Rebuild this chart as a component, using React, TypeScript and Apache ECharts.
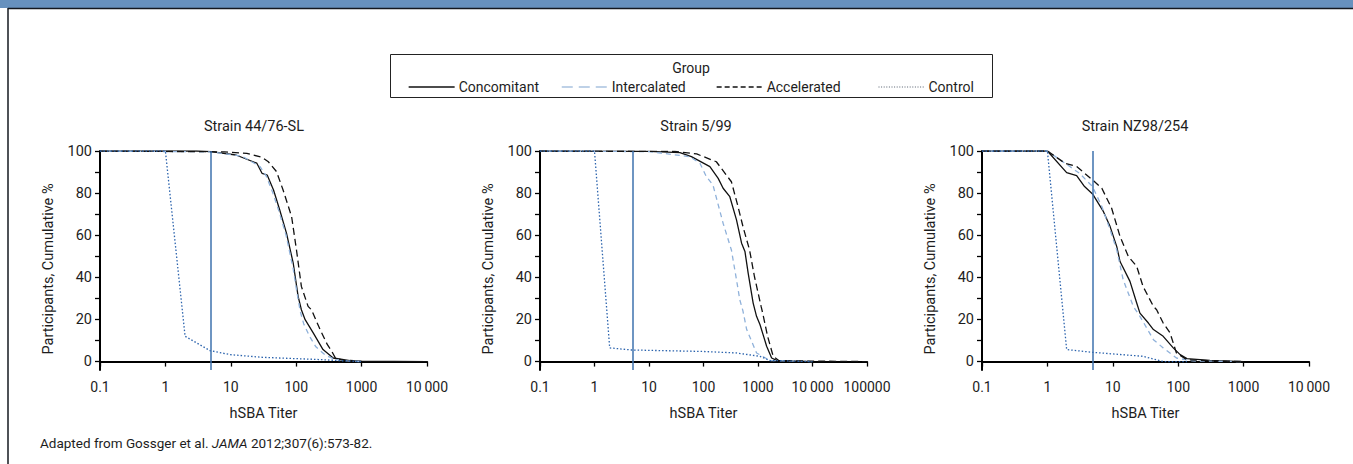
import React, { useEffect, useRef } from "react";
import * as echarts from "echarts";

const groups = ["Concomitant", "Intercalated", "Accelerated", "Control"];
const panelTitles = ["Strain 44/76-SL", "Strain 5/99", "Strain NZ98/254"];
const xMaxValues = [10000, 100000, 10000];
const xTickLabels = ["0.1", "1", "10", "100", "1000", "10\u2009000"];
const xTickLabelsWide = ["0.1", "1", "10", "100", "1000", "10\u2009000", "100000"];
const yLabelValues = [0, 20, 40, 60, 80, 100];
const yTickValues = [0, 10, 20, 30, 40, 50, 60, 70, 80, 90, 100];
const thresholdTiter = 5;
const yAxisTitle = "Participants, Cumulative %";
const xAxisTitle = "hSBA Titer";
const legendTitle = "Group";
const caption = ["Adapted from Gossger et al. ", "JAMA", " 2012;307(6):573-82."];

// [titer, cumulative %]
const s1Concomitant = [[0.1,100],[3,100],[5,99.7],[12,98.1],[25,94.2],[30,89.4],[36,88.6],[45,81.5],[56,72],[71,61],[90,46.8],[107,31],[120,24.6],[137,19.9],[182,13.6],[257,5.7],[368,1.7],[660,0.5],[1000,0.2],[10000,0]];
const s1Intercalated = [[0.1,100],[5,99.6],[15,97.5],[28,92.6],[35,88],[44,80],[55,71],[70,60],[90,44],[100,35],[115,24],[130,18],[160,12],[200,7],[280,3],[400,1],[600,0.3],[1000,0]];
const s1Accelerated = [[0.1,100],[8,99.6],[17.6,98.9],[30,97],[37.5,94.9],[50,90.2],[63,81.5],[85,68.9],[101,53],[120,35.7],[152,26.2],[171,24.6],[232,15.2],[300,8],[350,4.9],[400,1.5],[550,0.5],[800,0]];
const s1Control = [[0.1,100],[1,100],[2,12],[4.8,5.2],[9.8,3.3],[31,2],[232,0.95],[500,0.4],[1000,0]];

const s2Concomitant = [[0.1,100],[10,99.8],[37,99.2],[60,97.3],[131,92.6],[186,87],[229,82.3],[304,78.3],[403,67.3],[500,56.2],[576,52.3],[660,42],[815,27.8],[940,21.5],[1090,17.5],[1440,7.3],[1780,1.7],[2200,0.6],[4000,0.3],[10000,0]];
const s2Intercalated = [[0.1,100],[10,99.7],[56,97.3],[86,94.2],[113,87.8],[149,83.9],[229,65.7],[325,53],[403,38.9],[463,29.4],[530,24],[620,15.2],[940,4.1],[1650,0.5],[10000,0]];
const s2Accelerated = [[0.1,100],[30,99.8],[75,98.6],[172,94.9],[325,85.4],[430,73.6],[530,64.1],[700,53],[860,40.4],[1140,26.2],[1220,23],[1500,12],[1900,2.5],[2400,0.5],[5000,0.3],[100000,0]];
const s2Control = [[0.1,100],[1,100],[1.9,6.5],[4.8,5.5],[99,4.8],[403,4.1],[1090,2.5],[1650,0.5],[10000,0]];

const s3Concomitant = [[0.1,100],[1,100],[1.97,89.7],[2.8,88.3],[3.7,83.1],[4.9,79.6],[7.2,71.2],[9.1,64.1],[11.5,54.6],[12.9,47.5],[18.3,38.1],[23.2,27.8],[26,23],[35,18.3],[41.8,15.2],[59,12],[84,6.5],[107,3.3],[136,1.4],[305,0.6],[1000,0]];
const s3Intercalated = [[0.1,100],[1,100],[2.2,92.6],[3.1,89.4],[4.9,83.1],[6.8,73.6],[9.1,62.6],[11.5,53],[14.4,38.9],[20.6,26.2],[26,21.5],[41.8,10.4],[59,6.5],[94,1.7],[167,0.3],[1000,0]];
const s3Accelerated = [[0.1,100],[1,100],[1.85,94.2],[2.8,92.6],[4.9,86.3],[6.8,82.3],[9.6,72.8],[12.9,59.4],[17.3,49.9],[23.2,45.2],[29,35.7],[41.8,26.2],[46.8,24.6],[59,18.3],[75,13.6],[94,4.1],[136,0.9],[300,0.4],[1000,0]];
const s3Control = [[0.1,100],[1,100],[1.97,5.7],[4.9,4.4],[29,2.5],[59,0],[136,0]];

const panelData = [
  [s1Concomitant, s1Intercalated, s1Accelerated, s1Control],
  [s2Concomitant, s2Intercalated, s2Accelerated, s2Control],
  [s3Concomitant, s3Intercalated, s3Accelerated, s3Control],
];

const FONT = 'Roboto, "Liberation Sans", sans-serif';
const TEXT = "#1d1d1d";
const groupStyles = [
  { color: "#111111", type: "solid" as any, width: 1.3 },
  { color: "#8fb1da", type: [5, 4] as any, width: 1.3 },
  { color: "#111111", type: [7, 4] as any, width: 1.3 },
  { color: "#2b63ad", type: [1.5, 2] as any, width: 1.3 },
];
const legendLineStyles = [
  { color: "#111111", type: "solid" as any, width: 1.3 },
  { color: "#a9c2e0", type: [11, 6] as any, width: 1.5 },
  { color: "#111111", type: [5, 3] as any, width: 1.3 },
  { color: "#555f6e", type: [1, 1.6] as any, width: 1 },
];

const gridLefts = [100, 540, 982];
const titleCenters = [254, 696, 1135];
const legendLefts = [408, 561, 716, 878];

export default function App() {
  const ref = useRef<HTMLDivElement>(null);
  useEffect(() => {
    if (!ref.current) return;
    const chart = echarts.init(ref.current, null, { renderer: "svg" });

    const grids = gridLefts.map((l) => ({ left: l, top: 151, width: 327, height: 219 }));
    const xAxes = gridLefts.map((_, i) => {
      const labels = i === 1 ? xTickLabelsWide : xTickLabels;
      return {
        type: "log",
        logBase: 10,
        gridIndex: i,
        min: 0.1,
        max: xMaxValues[i],
        interval: 1,
        name: xAxisTitle,
        nameLocation: "middle",
        nameGap: 36,
        nameTextStyle: { fontFamily: FONT, fontSize: 14.5, color: TEXT },
        axisLine: { show: true, lineStyle: { color: "#000", width: 2 } },
        axisTick: { show: true, length: 5, lineStyle: { color: "#000", width: 1.3 } },
        axisLabel: {
          margin: 10,
          fontFamily: FONT,
          fontSize: 14,
          color: TEXT,
          formatter: (v: number) => labels[Math.round(Math.log10(v)) + 1] ?? "",
        },
        splitLine: { show: false },
        minorTick: { show: false },
      };
    });
    const yAxes = gridLefts.map((_, i) => ({
      type: "value",
      gridIndex: i,
      min: -4,
      max: 100,
      axisLine: { show: true, onZero: false, lineStyle: { color: "#000", width: 2 } },
      axisTick: { show: true, length: 5, customValues: yTickValues, lineStyle: { color: "#000", width: 1.3 } },
      axisLabel: { margin: 8, fontFamily: FONT, fontSize: 14.5, color: TEXT, customValues: yLabelValues },
      splitLine: { show: false },
    }));

    const series: any[] = [];
    panelData.forEach((sets, p) => {
      sets.forEach((data, g) => {
        series.push({
          type: "line",
          name: groups[g],
          xAxisIndex: p,
          yAxisIndex: p,
          data,
          symbol: "none",
          smooth: false,
          lineStyle: groupStyles[g],
          itemStyle: { color: groupStyles[g].color },
          z: 3,
          markLine:
            g === 0
              ? {
                  silent: true,
                  symbol: "none",
                  label: { show: false },
                  lineStyle: { color: "#3e72ae", width: 1.5, type: "solid" },
                  data: [{ xAxis: thresholdTiter }],
                }
              : undefined,
        });
      });
    });

    const legends = groups.map((g, i) => ({
      left: legendLefts[i],
      top: 80,
      orient: "horizontal",
      itemWidth: 46,
      itemHeight: 14,
      itemGap: 4,
      padding: 0,
      selectedMode: false,
      itemStyle: { opacity: 0 },
      lineStyle: legendLineStyles[i],
      data: [g],
      textStyle: { fontFamily: FONT, fontSize: 14, color: TEXT, padding: [0, 0, 0, -1] },
    }));

    const graphic: any[] = [
      { type: "rect", shape: { x: 0, y: 0, width: 1353, height: 8 }, style: { fill: "#6791be" }, silent: true },
      { type: "line", shape: { x1: 8, y1: 8.5, x2: 1353, y2: 8.5 }, style: { stroke: "#14181f", lineWidth: 1.5 }, silent: true },
      { type: "line", shape: { x1: 8, y1: 8, x2: 8, y2: 464 }, style: { stroke: "#14181f", lineWidth: 1.5 }, silent: true },
      { type: "rect", shape: { x: 390.5, y: 54.5, width: 602, height: 43 }, style: { fill: "none", stroke: "#222", lineWidth: 1 }, silent: true },
      { type: "text", x: 691, y: 68, style: { text: legendTitle, fontFamily: FONT, fontSize: 14, fill: TEXT, align: "center", verticalAlign: "middle" }, silent: true },
      {
        type: "text",
        x: 40,
        y: 443,
        style: {
          text: `{a|${caption[0]}}{b|${caption[1]}}{a|${caption[2]}}`,
          verticalAlign: "middle",
          rich: {
            a: { fontFamily: FONT, fontSize: 13.5, fill: TEXT, color: TEXT },
            b: { fontFamily: FONT, fontSize: 13.5, fontStyle: "italic", fill: TEXT, color: TEXT },
          },
        },
        silent: true,
      },
    ];
    gridLefts.forEach((l) => {
      graphic.push({
        type: "text",
        x: l - 52,
        y: 269,
        rotation: Math.PI / 2,
        style: { text: yAxisTitle, fontFamily: FONT, fontSize: 14.5, fill: TEXT, align: "center", verticalAlign: "middle" },
        silent: true,
      });
    });

    const titles = panelTitles.map((t, i) => ({
      text: t,
      left: titleCenters[i],
      top: 119,
      textAlign: "center",
      padding: 0,
      textStyle: { fontFamily: FONT, fontSize: 14.5, fontWeight: "normal", color: TEXT },
    }));

    chart.setOption({
      animation: false,
      backgroundColor: "#ffffff",
      title: titles,
      legend: legends,
      grid: grids,
      xAxis: xAxes,
      yAxis: yAxes,
      series,
      graphic,
    } as any);
    return () => chart.dispose();
  }, []);
  return <div ref={ref} style={{ position: "fixed", left: 0, top: 0, width: 1353, height: 464, background: "#fff" }} />;
}
